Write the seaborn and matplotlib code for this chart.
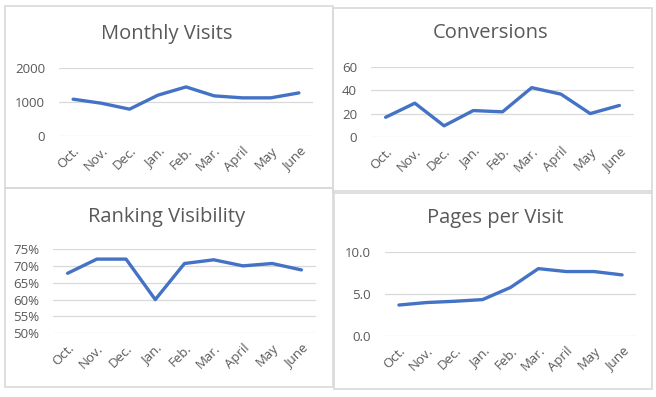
import matplotlib
matplotlib.use("Agg")
import matplotlib.pyplot as plt
from matplotlib.patches import Rectangle
from matplotlib.ticker import PercentFormatter, FormatStrFormatter
import seaborn as sns
import pandas as pd

sns.set_theme(style="white")
plt.rcParams['font.family'] = ['Open Sans', 'DejaVu Sans']

months = ["Oct.", "Nov.", "Dec.", "Jan.", "Feb.", "Mar.", "April", "May", "June"]
monthly_visits = [1078, 960, 786, 1194, 1437, 1175, 1117, 1117, 1262]
conversions = [16.8, 29, 9.4, 22.6, 21.5, 42.4, 36.8, 20, 27]
ranking_visibility = [0.678, 0.72, 0.72, 0.60, 0.707, 0.718, 0.70, 0.707, 0.688]
pages_per_visit = [3.7, 4.0, 4.15, 4.35, 5.8, 8.05, 7.7, 7.7, 7.3]

titles = ["Monthly Visits", "Conversions", "Ranking Visibility", "Pages per Visit"]
series = [monthly_visits, conversions, ranking_visibility, pages_per_visit]
yticks = [[0, 1000, 2000], [0, 20, 40, 60],
          [0.50, 0.55, 0.60, 0.65, 0.70, 0.75], [0.0, 5.0, 10.0]]
ylims = [(0, 2000), (0, 60), (0.50, 0.75), (0, 10)]

W, H = 656, 397
fig = plt.figure(figsize=(W / 100, H / 100), dpi=100)

def fx(px):
    return px / W

def fy(py):
    return 1 - py / H

# panel boxes (pixel coords: x0, y0, x1, y1)
boxes = [(5, 6, 333, 188), (333, 8, 652, 193), (5, 188, 333, 387), (334, 191, 652, 389)]
for x0, y0, x1, y1 in boxes:
    fig.patches.append(Rectangle((fx(x0), fy(y1)), fx(x1) - fx(x0), fy(y0) - fy(y1),
                                 transform=fig.transFigure, fill=False,
                                 edgecolor="#d9d9d9", linewidth=1.2))

# axes plot areas (pixel coords: left, top, right, bottom)
areas = [(59, 67.7, 313, 136), (371, 67.3, 634, 136.7), (53, 249, 316, 333.3), (385, 252.3, 636, 336)]
title_pos = [(167, 34), (491, 33), (167, 217), (495, 218)]

grey = "#595959"
for i in range(4):
    l, t, r, b = areas[i]
    ax = fig.add_axes([fx(l), fy(b), fx(r) - fx(l), fy(t) - fy(b)])
    df = pd.DataFrame({"month": months, "value": series[i]})
    sns.lineplot(data=df, x="month", y="value", sort=False, ax=ax,
                 color="#4472C4", linewidth=2.4)
    ax.set_xlim(-0.5, 8.5)
    ax.set_ylim(*ylims[i])
    ax.set_yticks(yticks[i])
    ax.grid(axis="y", color="#d9d9d9", linewidth=0.9)
    ax.set_axisbelow(True)
    for s in ax.spines.values():
        s.set_visible(False)
    ax.set_xlabel("")
    ax.set_ylabel("")
    ax.tick_params(axis="both", length=0, colors=grey)
    ax.tick_params(axis="y", labelsize=9.5, pad=10)
    ax.tick_params(axis="x", labelsize=9.5, pad=6)
    ax.set_xticks(range(len(months)))
    ax.set_xticklabels(months, rotation=45, ha="right", rotation_mode="anchor")
    if i == 2:
        ax.yaxis.set_major_formatter(PercentFormatter(1.0, decimals=0))
    if i == 3:
        ax.yaxis.set_major_formatter(FormatStrFormatter("%.1f"))
    fig.text(fx(title_pos[i][0]), fy(title_pos[i][1]), titles[i], ha="center",
             va="center", fontsize=14.5, color=grey)

fig.savefig("out.png", dpi=100)
